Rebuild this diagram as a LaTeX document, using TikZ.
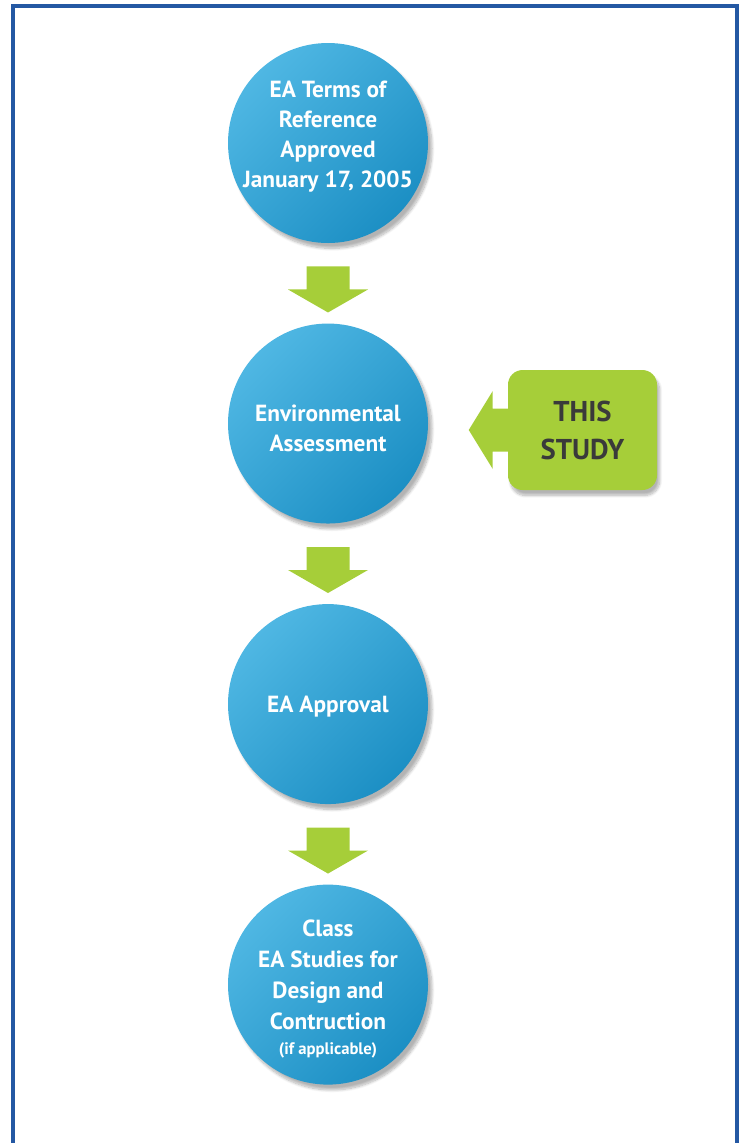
\documentclass[tikz,border=0pt]{standalone}
\usepackage{fontspec}
\setmainfont{PT Sans}
\usetikzlibrary{positioning, calc, shadows.blur}
\definecolor{eaBlueLight}{HTML}{4FB7E3}
\definecolor{eaBlueDark}{HTML}{1C8FC4}
\definecolor{eaGreen}{HTML}{A6CE39}
\definecolor{eaText}{HTML}{3A3A3A}
\definecolor{eaFrame}{HTML}{2458A3}

\begin{document}
\begin{tikzpicture}[
		x=0.75pt, y=-0.75pt,
		node distance=60pt,
		stage/.style={circle, minimum size=150pt, inner sep=-15pt, align=center, text=white, font=\bfseries\fontsize{17.5}{22.5}\selectfont, top color=eaBlueLight, bottom color=eaBlueDark, shading angle=45, blur shadow={shadow xshift=3pt, shadow yshift=-4pt, shadow opacity=30, shadow blur steps=10}},
		callout/.style={rounded corners=11pt, fill=eaGreen, minimum width=111.75pt, minimum height=90pt, align=center, text=eaText, font=\bfseries\fontsize{21.5}{28.5}\selectfont, blur shadow={shadow xshift=2pt, shadow yshift=-4pt, shadow opacity=30, shadow blur steps=10}},
		blockdown/.pic={\fill[eaGreen] (-21.5,0) -- (21.5,0) -- (21.5,23) -- (40,23) -- (0,46) -- (-40,23) -- (-21.5,23) -- cycle;}
	]
		\useasboundingbox (0,0) rectangle (742,1143);
		\draw[eaFrame, line width=3pt] (13,1143) -- (13,6) -- (737,6) -- (737,1143);

		\node[stage] (terms) at (328,143) {EA Terms of\\Reference\\Approved\\January 17, 2005\\[-10pt]\mbox{}};
		\node[stage, below=of terms] (assess) {\mbox{}\\[-2.5pt]Environmental\\Assessment};
		\node[stage, below=of assess] (approval) {\mbox{}\\[-6pt]EA Approval};
		\node[stage, below=of approval, font=\bfseries\fontsize{17.5}{23.25}\selectfont] (classea) {\mbox{}\\[-4pt]Class\\EA Studies for\\Design and\\Contruction\\[-4pt]{\fontsize{12.5}{14}\selectfont (if applicable)}};

		% down arrows between the stages
		\path (terms.south) -- (assess.north) coordinate[pos=0.29] (arrA);
		\path (assess.south) -- (approval.north) coordinate[pos=0.29] (arrB);
		\path (approval.south) -- (classea.north) coordinate[pos=0.29] (arrC);
		\pic at (arrA) {blockdown};
		\pic at (arrB) {blockdown};
		\pic at (arrC) {blockdown};

		\node[callout] (study) at (582.5,430) {THIS\\STUDY};
		\fill[eaGreen] ([xshift=1.5pt]study.west) ++(0,-21.5) -- ++(-17,0) -- ++(0,-17.5) -- ++(-24,39) -- ++(24,39) -- ++(0,-17.5) -- ++(17,0) -- cycle;
	\end{tikzpicture}
\end{document}
